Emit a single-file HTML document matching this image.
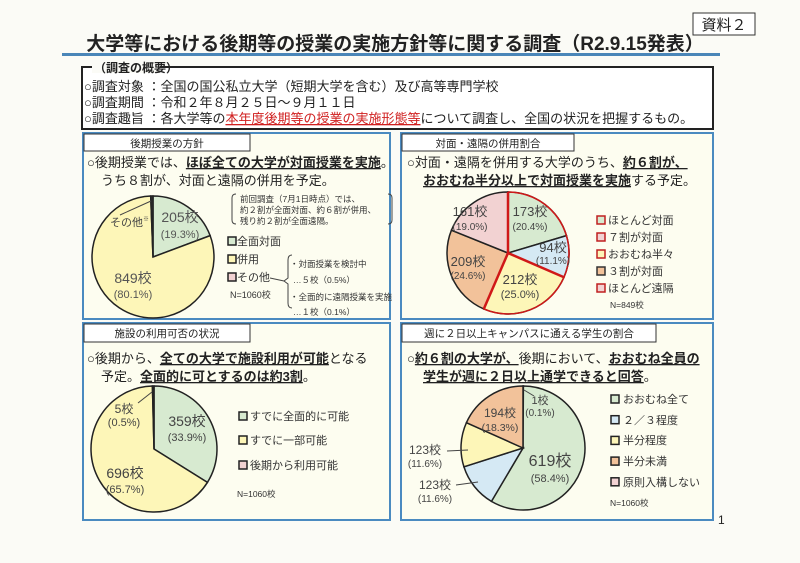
<!DOCTYPE html>
<html><head><meta charset="utf-8"><style>
body{margin:0;background:#fbfbf6;}
svg{display:block;font-family:"Liberation Sans","Noto Sans CJK JP",sans-serif;}
.b{font-weight:bold}
</style></head><body>
<svg id="s" width="800" height="563" viewBox="0 0 800 563" xmlns="http://www.w3.org/2000/svg">
<rect width="800" height="563" fill="#fbfbf6"/>
<rect x="693" y="13" width="62" height="22" fill="#fff" stroke="#333" stroke-width="1"/>
<text x="724" y="30" font-size="15" text-anchor="middle" fill="#222">資料２</text>
<text x="395" y="50" font-size="19" class="b" text-anchor="middle" fill="#222">大学等における後期等の授業の実施方針等に関する調査（R2.9.15発表）</text>
<rect x="62" y="53" width="658" height="3" fill="#4a86b8"/>
<rect x="82" y="67" width="631" height="62" fill="#fff" stroke="#222" stroke-width="2"/>
<rect x="92" y="61" width="68" height="12" fill="#fbfbf6"/>
<text x="94" y="72" font-size="12" class="b" fill="#222">（調査の概要）</text>
<g font-size="13" fill="#222">
<text x="84" y="91">○調査対象 ：全国の国公私立大学（短期大学を含む）及び高等専門学校</text>
<text x="84" y="107">○調査期間 ：令和２年８月２５日～９月１１日</text>
<text x="84" y="123">○調査趣旨 ：各大学等の<tspan fill="#d02020" text-decoration="underline">本年度後期等の授業の実施形態等</tspan>について調査し、全国の状況を把握するもの。</text>
</g>
<g fill="#fdfdf0" stroke="#4a8ac0" stroke-width="2">
<rect x="83" y="133" width="307" height="186"/>
<rect x="401" y="133" width="312" height="186"/>
<rect x="83" y="323" width="307" height="197"/>
<rect x="401" y="323" width="312" height="197"/>
</g>
<g fill="#fff" stroke="#333" stroke-width="1">
<rect x="84" y="134" width="166" height="17"/>
<rect x="402" y="134" width="172" height="17"/>
<rect x="84" y="324" width="166" height="18"/>
<rect x="402" y="324" width="254" height="18"/>
</g>
<g font-size="10.5" fill="#222" text-anchor="middle">
<text x="167" y="147">後期授業の方針</text>
<text x="488" y="147">対面・遠隔の併用割合</text>
<text x="167" y="337">施設の利用可否の状況</text>
<text x="529" y="337">週に２日以上キャンパスに通える学生の割合</text>
</g>
<g font-size="13" fill="#222">
<text x="87" y="167">○後期授業では、<tspan class="b" text-decoration="underline">ほぼ全ての大学が対面授業を実施</tspan>。</text>
<text x="101" y="185">うち８割が、対面と遠隔の併用を予定。</text>
<text x="407" y="167">○対面・遠隔を併用する大学のうち、<tspan class="b" text-decoration="underline">約６割が、</tspan></text>
<text x="423" y="185"><tspan class="b" text-decoration="underline">おおむね半分以上で対面授業を実施</tspan>する予定。</text>
<text x="87" y="363">○後期から、<tspan class="b" text-decoration="underline">全ての大学で施設利用が可能</tspan>となる</text>
<text x="101" y="381">予定。<tspan class="b" text-decoration="underline">全面的に可とするのは約3割</tspan>。</text>
<text x="407" y="363">○<tspan class="b" text-decoration="underline">約６割の大学が、</tspan>後期において、<tspan class="b" text-decoration="underline">おおむね全員の</tspan></text>
<text x="423" y="381"><tspan class="b" text-decoration="underline">学生が週に２日以上通学できると回答</tspan>。</text>
</g>
<g id="pies"></g>
<g fill="#333">
<path d="M236 194 q-4 0 -4 4 v22 q0 4 4 4 M388 194 q4 0 4 4 v22 q0 4 -4 4" fill="none" stroke="#444"/>
<g font-size="8.5"><text x="240" y="202">前回調査（7月1日時点）では、</text><text x="240" y="213">約２割が全面対面、約６割が併用、</text><text x="240" y="224">残り約２割が全面遠隔。</text></g>
<g font-size="11"><text x="237" y="245">全面対面</text><text x="237" y="263">併用</text><text x="237" y="281">その他</text></g>
<text x="230" y="298" font-size="9">N=1060校</text>
<path d="M292 255 q-4 0 -4 5 v18 l-4 3 l4 3 v19 q0 5 4 5" fill="none" stroke="#444"/>
<line x1="270" y1="278" x2="284" y2="281" stroke="#444"/>
<g font-size="8.5"><text x="290" y="267">・対面授業を検討中</text><text x="293" y="283">…５校（0.5%）</text><text x="290" y="300">・全面的に遠隔授業を実施</text><text x="293" y="315">…１校（0.1%）</text></g>
<text x="180" y="222" font-size="14" text-anchor="middle" fill="#555">205校</text>
<text x="180" y="238" font-size="11" text-anchor="middle" fill="#555">(19.3%)</text>
<text x="133" y="283" font-size="14" text-anchor="middle" fill="#555">849校</text>
<text x="133" y="298" font-size="11" text-anchor="middle" fill="#555">(80.1%)</text>
<text x="110" y="226" font-size="11" fill="#444">その他<tspan font-size="6" dy="-5">※</tspan></text>
<line x1="120" y1="215" x2="151" y2="201" stroke="#444"/>
</g>
<g fill="#444" text-anchor="middle">
<text x="470" y="216" font-size="13">161校</text><text x="470" y="230" font-size="10">(19.0%)</text>
<text x="530" y="216" font-size="13">173校</text><text x="530" y="230" font-size="10">(20.4%)</text>
<text x="553" y="252" font-size="13">94校</text><text x="553" y="264" font-size="10">(11.1%)</text>
<text x="468" y="266" font-size="13">209校</text><text x="468" y="279" font-size="10">(24.6%)</text>
<text x="520" y="284" font-size="13">212校</text><text x="520" y="298" font-size="11">(25.0%)</text>
</g>
<g font-size="11" fill="#333"><text x="608" y="224">ほとんど対面</text><text x="608" y="241">７割が対面</text><text x="608" y="258">おおむね半々</text><text x="608" y="275">３割が対面</text><text x="608" y="292">ほとんど遠隔</text></g>
<text x="610" y="308" font-size="8.5" fill="#333">N=849校</text>
<g fill="#444" text-anchor="middle">
<text x="187" y="426" font-size="14">359校</text><text x="187" y="441" font-size="11">(33.9%)</text>
<text x="125" y="478" font-size="14">696校</text><text x="125" y="493" font-size="11">(65.7%)</text>
<text x="124" y="413" font-size="12">5校</text><text x="124" y="426" font-size="11">(0.5%)</text>
</g>
<line x1="138" y1="403" x2="152" y2="392" stroke="#444"/>
<g font-size="11" fill="#333"><text x="250" y="420">すでに全面的に可能</text><text x="250" y="444">すでに一部可能</text><text x="250" y="469">後期から利用可能</text></g>
<text x="237" y="497" font-size="8.5" fill="#333">N=1060校</text>
<g fill="#444" text-anchor="middle">
<text x="540" y="404" font-size="11">1校</text><text x="540" y="416" font-size="10">(0.1%)</text>
<text x="500" y="417" font-size="12">194校</text><text x="500" y="431" font-size="10.5">(18.3%)</text>
<text x="550" y="466" font-size="16">619校</text><text x="550" y="482" font-size="11">(58.4%)</text>
<text x="425" y="454" font-size="12">123校</text><text x="425" y="467" font-size="10">(11.6%)</text>
<text x="435" y="489" font-size="12">123校</text><text x="435" y="502" font-size="10">(11.6%)</text>
</g>
<line x1="524" y1="390" x2="534" y2="396" stroke="#444"/>
<line x1="447" y1="451" x2="468" y2="450" stroke="#444"/>
<line x1="456" y1="485" x2="478" y2="482" stroke="#444"/>
<g font-size="11" fill="#333"><text x="623" y="403">おおむね全て</text><text x="623" y="424">２／３程度</text><text x="623" y="444">半分程度</text><text x="623" y="465">半分未満</text><text x="623" y="486">原則入構しない</text></g>
<text x="610" y="506" font-size="8.5" fill="#333">N=1060校</text>
<text x="718" y="524" font-size="12" fill="#222">1</text>
<g id="leg"></g>
</svg>
<script>
var G="#d7ead0",Y="#fdf6b8",B="#d5e9f4",O="#f2c29a",P="#f2d2d2",ns="http://www.w3.org/2000/svg";
function pie(cx,cy,r,sl,stroke,sw){var a=0,g=document.getElementById('pies');sl.forEach(function(s){var a2=a+s[0]*2*Math.PI/100;
var x1=cx+r*Math.sin(a),y1=cy-r*Math.cos(a),x2=cx+r*Math.sin(a2),y2=cy-r*Math.cos(a2);
var p=document.createElementNS(ns,'path');p.setAttribute('d','M'+cx+' '+cy+'L'+x1+' '+y1+'A'+r+' '+r+' 0 '+(a2-a>Math.PI?1:0)+' 1 '+x2+' '+y2+'Z');
p.setAttribute('fill',s[1]);p.setAttribute('stroke',stroke);p.setAttribute('stroke-width',sw);g.appendChild(p);a=a2;});}
pie(153,257,61,[[19.3,G],[80.1,Y],[0.6,"#333"]],"#222",1.5);
pie(508,253,61,[[20.4,G],[11.1,B],[25.0,Y],[24.6,O],[19.0,P]],"#222",1.5);
(function(){var g=document.getElementById('pies');
 var a=[0,20.4+11.1,20.4+11.1+25];a.forEach(function(v){var t=v*2*Math.PI/100;var l=document.createElementNS(ns,'line');
 l.setAttribute('x1',508);l.setAttribute('y1',253);l.setAttribute('x2',508+61*Math.sin(t));l.setAttribute('y2',253-61*Math.cos(t));l.setAttribute('stroke','#d01818');l.setAttribute('stroke-width',2.5);g.appendChild(l);});
 var c=document.createElementNS(ns,'path');var t2=(20.4+11.1+25)*2*Math.PI/100;
 c.setAttribute('d','M508 192A61 61 0 1 1 '+(508+61*Math.sin(t2))+' '+(253-61*Math.cos(t2)));c.setAttribute('fill','none');c.setAttribute('stroke','#d01818');c.setAttribute('stroke-width',1.5);g.appendChild(c);})();
pie(154,449,63,[[33.9,G],[65.7,Y],[0.4,"#333"]],"#222",1.5);
pie(523,448,62,[[0.1,P],[58.4,G],[11.6,B],[11.6,Y],[18.3,O]],"#222",1.5);
var L=document.getElementById('leg');
function box(x,y,c,s){var r=document.createElementNS(ns,'rect');r.setAttribute('x',x);r.setAttribute('y',y);r.setAttribute('width',8);r.setAttribute('height',8);r.setAttribute('fill',c);r.setAttribute('stroke',s||'#222');r.setAttribute('stroke-width',1.5);L.appendChild(r);}
box(228,237,G);box(228,255,Y);box(228,273,P);
[G,P,Y,O,P].forEach(function(c,i){box(597,216+17*i,c,i==3?'#333':'#c02020');});
box(239,412,G);box(239,436,Y);box(239,461,P);
[G,B,Y,O,P].forEach(function(c,i){box(611,395+20.7*i,c);});
</script>
</body></html>
